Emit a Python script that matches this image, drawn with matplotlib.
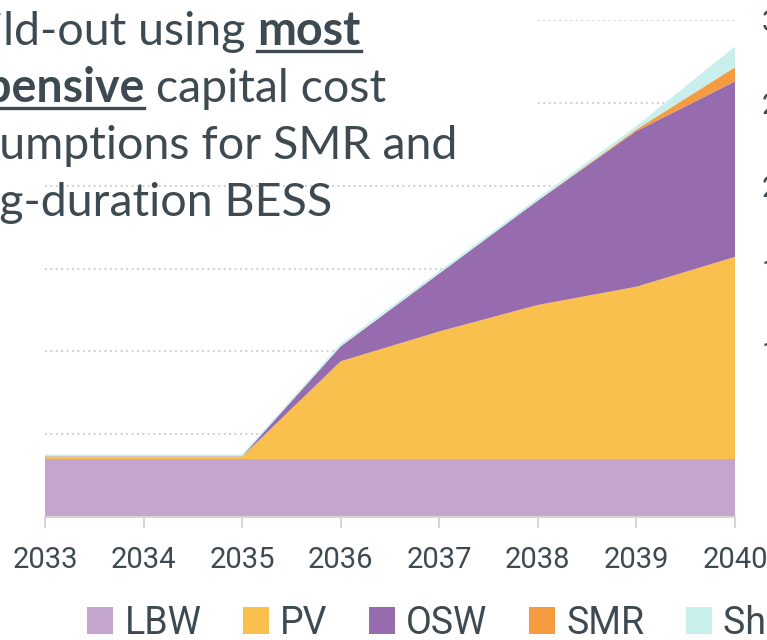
import matplotlib
matplotlib.use('Agg')
import matplotlib.pyplot as plt
from matplotlib.patches import Patch, Rectangle

# data (one grid step = 5)
years = [2033, 2034, 2035, 2036, 2037, 2038, 2039, 2040]
lbw = [3.5, 3.5, 3.5, 3.5, 3.5, 3.5, 3.5, 3.5]
pv = [0.15, 0.15, 0.15, 5.9, 7.7, 9.3, 10.4, 12.2]
osw = [0.02, 0.02, 0.02, 0.9, 3.5, 6.3, 9.4, 10.6]
smr = [0.0, 0.0, 0.0, 0.0, 0.0, 0.0, 0.1, 0.85]
sh = [0.1, 0.1, 0.1, 0.15, 0.15, 0.15, 0.2, 1.25]
labels = ['LBW', 'PV', 'OSW', 'SMR', 'Short-duration BESS']
yticks = [0, 5, 10, 15, 20, 25, 30]

colors = ['#c4a5cd', '#f9c04e', '#976cae', '#f59c41', '#c8efec']
txt = '#3d4a51'
narrow = ['Roboto', 'DejaVu Sans']
head = ['Lato', 'DejaVu Sans']

W, H = 767, 640
fig = plt.figure(figsize=(W / 100, H / 100), dpi=100)
ax = fig.add_axes([45 / W, 1 - 517 / H, 690 / W, 497 / H])

ax.stackplot(years, lbw, pv, osw, smr, sh, colors=colors, labels=labels,
             linewidth=0, zorder=2)
ax.set_xlim(2033, 2040)
ax.set_ylim(0, 30)
ax.set_xticks(years)
ax.set_yticks(yticks)
ax.grid(axis='y', color='#c9c9c9', linestyle=(0, (1, 2)), linewidth=1.3)
ax.set_axisbelow(True)
for s in ['top', 'left', 'right']:
    ax.spines[s].set_visible(False)
ax.spines['bottom'].set_color('#d6d6d6')
ax.spines['bottom'].set_linewidth(1.5)
ax.spines['bottom'].set_zorder(3)

ax.tick_params(axis='x', length=8, width=1.5, color='#d6d6d6', pad=13,
               labelsize=21, labelcolor=txt)
ax.yaxis.tick_right()
ax.tick_params(axis='y', length=0, pad=43, labelsize=21, labelcolor=txt)
for lab in ax.get_xticklabels():
    lab.set_family(narrow)
for lab in ax.get_yticklabels():
    lab.set_family(narrow)
    lab.set_horizontalalignment('right')

# white box behind the headline hides the upper grid lines
fig.patches.append(Rectangle((0, 1 - 150 / H), 535 / W, 150 / H,
                             transform=fig.transFigure, facecolor='white',
                             edgecolor='none', zorder=1))

def px(x, y):
    return x / W, 1 - y / H

fig.canvas.draw()
rend = fig.canvas.get_renderer()
fs = 33.5
x0 = -64

def piece(x, y, s, bold=False, under=False):
    t = fig.text(*px(x, y), s, fontsize=fs, family=head, color=txt,
                 fontweight='bold' if bold else 'normal', va='baseline',
                 zorder=4)
    bb = t.get_window_extent(rend)
    if under:
        fig.add_artist(plt.Line2D([bb.x0 / W, bb.x1 / W],
                                  [1 - (y + 6) / H] * 2, color=txt,
                                  linewidth=2.4, zorder=4))
    return x + bb.width

nx = piece(x0, 45, 'Build-out using ')
piece(nx, 45, 'most', bold=True, under=True)
nx = piece(x0, 102, 'expensive', bold=True, under=True)
piece(nx, 102, ' capital cost')
piece(x0, 159, 'assumptions for SMR and')
piece(x0, 216, 'long-duration BESS')

handles = [Patch(facecolor=c, edgecolor='none') for c in colors]
leg = fig.legend(handles, labels, loc='center left', ncol=5,
                 bbox_to_anchor=(87 / W, 1 - 623 / H), frameon=False,
                 handlelength=0.7, handleheight=0.7, handletextpad=0.3,
                 columnspacing=1.1, borderaxespad=0, borderpad=0,
                 prop={'family': narrow, 'size': 27})
for t in leg.get_texts():
    t.set_color(txt)

fig.savefig('out.png', dpi=100)
